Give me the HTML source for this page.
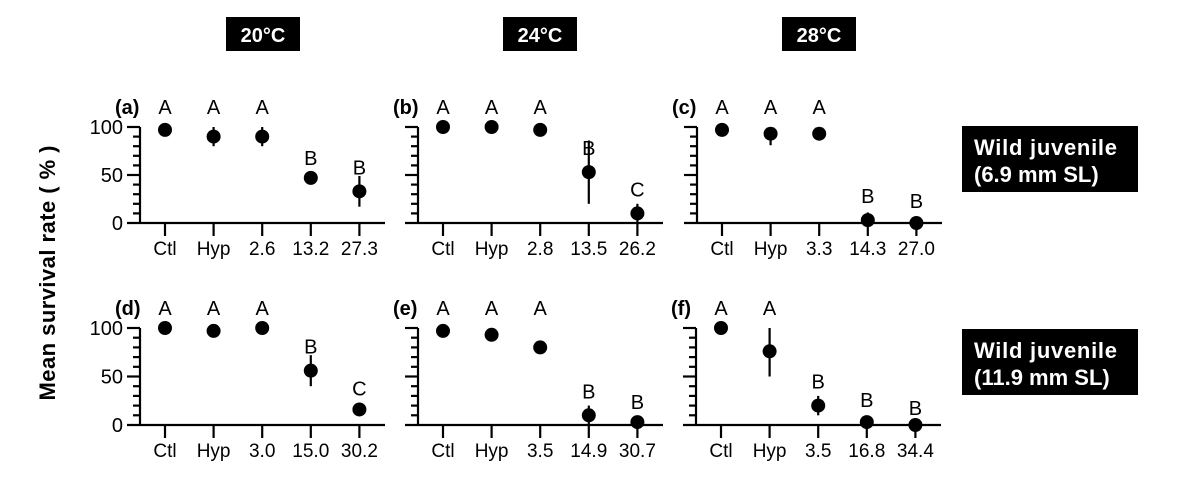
<!DOCTYPE html><html><head><style>body{margin:0;background:#fff}svg{display:block;font-family:"Liberation Sans",Arial,sans-serif}</style></head><body>
<svg width="1194" height="477" viewBox="0 0 1194 477" xmlns="http://www.w3.org/2000/svg" id="s"></svg>
<script>
const s=document.getElementById('s');let h='';
function T(x,y,t,o){h+=`<text x="${x}" y="${y}" ${o||''}>${t}</text>`}
[[226,'20°C'],[503,'24°C'],[782,'28°C']].forEach(([x,t])=>{h+=`<rect x="${x}" y="17" width="74" height="34" fill="#000"/>`;T(x+37,42,t,'fill="#fff" font-size="20" font-weight="bold" text-anchor="middle"')});
[[126,'(6.9 mm SL)'],[329,'(11.9 mm SL)']].forEach(([y,t])=>{h+=`<rect x="962" y="${y}" width="176" height="66" fill="#000"/>`;T(974,y+29,'Wild juvenile','fill="#fff" font-size="22" font-weight="bold" textLength="143"');T(974,y+56,t,'fill="#fff" font-size="22" font-weight="bold"')});
T(0,0,'Mean survival rate ( % )','font-size="22" font-weight="bold" text-anchor="middle" textLength="255" transform="translate(55,273) rotate(-90)"');
const P=[
 {ax:140,y0:223,sc:0.96,lab:'(a)',c:['Ctl','Hyp','2.6','13.2','27.3'],d:[[97,0],[90,10],[90,10],[47,3],[33,16]],L:['A','A','A','B','B'],yt:1},
 {ax:418,y0:223,sc:0.96,lab:'(b)',c:['Ctl','Hyp','2.8','13.5','26.2'],d:[[100,0],[100,0],[97,0],[53,33],[10,10]],L:['A','A','A','B','C']},
 {ax:697,y0:223,sc:0.96,lab:'(c)',c:['Ctl','Hyp','3.3','14.3','27.0'],d:[[97,0],[93,12],[93,4],[3,8],[0,5]],L:['A','A','A','B','B']},
 {ax:140,y0:425,sc:0.97,lab:'(d)',c:['Ctl','Hyp','3.0','15.0','30.2'],d:[[100,0],[97,0],[100,0],[56,16],[16,4]],L:['A','A','A','B','C'],yt:1},
 {ax:418,y0:425,sc:0.97,lab:'(e)',c:['Ctl','Hyp','3.5','14.9','30.7'],d:[[97,0],[93,0],[80,0],[10,10],[3,3]],L:['A','A','A','B','B']},
 {ax:696,y0:425,sc:0.97,lab:'(f)',c:['Ctl','Hyp','3.5','16.8','34.4'],d:[[100,0],[76,26],[20,10],[3,5],[0,0]],L:['A','A','B','B','B']}];
P.forEach(p=>{const{ax,y0,sc}=p;const Y=v=>y0-v*sc;
 h+=`<g stroke="#000" stroke-width="2.2" fill="none"><path d="M${ax-13},${y0}H${ax+245}M${ax},${y0}V${Y(100)}"/>`;
 for(let v=10;v<=100;v+=10){h+=`<path d="M${ax-(v%50?7:13)},${Y(v)}H${ax}"/>`}
 for(let i=0;i<5;i++){const x=ax+25+i*48.6;h+=`<path d="M${x},${y0}V${y0+13}"/>`}
 h+='</g>';
 if(p.yt){[0,50,100].forEach(v=>T(ax-17,Y(v)+7,v,'font-size="20" text-anchor="end"'))}
 T(ax-25,Y(100)-13,p.lab,'font-size="20" font-weight="bold"');
 p.d.forEach(([m,e],i)=>{const x=ax+25+i*48.6;
  if(e)h+=`<path d="M${x},${Y(Math.min(100,m+e))}V${Y(Math.max(0,m-e))}" stroke="#000" stroke-width="2.2"/>`;
  h+=`<circle cx="${x}" cy="${Y(m)}" r="7" fill="#000"/>`;
  T(x,y0+32,p.c[i],'font-size="19" text-anchor="middle"');
  const top=Math.max(Y(Math.min(100,m+e)),Y(m)-7);const ly=p.L[i]=='A'?Y(100)-13:top-10;
  T(x,ly,p.L[i],'font-size="20" text-anchor="middle"');});
});
s.innerHTML=h;
</script></body></html>
